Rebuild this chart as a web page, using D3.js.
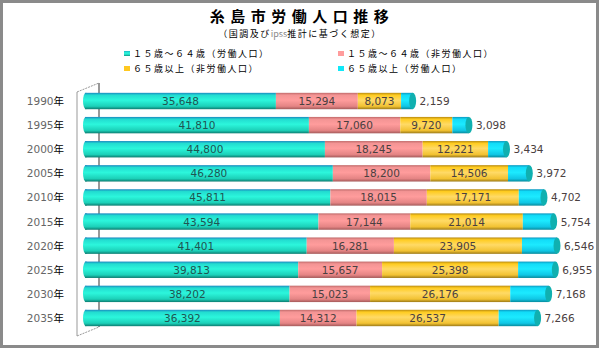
<!DOCTYPE html>
<html lang="ja">
<head>
  <meta charset="UTF-8" />
  <title>糸島市労働人口推移</title>
  <script src="https://cdn.jsdelivr.net/npm/d3@7/dist/d3.min.js"></script>
  <style>
    body { margin: 0; background: #fff; }
    #chart { width: 600px; height: 350px; }
  </style>
</head>
<body>
  <div id="chart"></div>
  <script>
    // データ
    const years = ["1990", "1995", "2000", "2005", "2010", "2015", "2020", "2025", "2030", "2035"];
    const working1564 = [35648, 41810, 44800, 46280, 45811, 43594, 41401, 39813, 38202, 36392];
    const nonWorking1564 = [15294, 17060, 18245, 18200, 18015, 17144, 16281, 15657, 15023, 14312];
    const nonWorking65 = [8073, 9720, 12221, 14506, 17171, 21014, 23905, 25398, 26176, 26537];
    const working65 = [2159, 3098, 3434, 3972, 4702, 5754, 6546, 6955, 7168, 7266];

    const seriesNames = ["１５歳～６４歳（労働人口）", "１５歳～６４歳（非労働人口）", "６５歳以上（非労働人口）", "６５歳以上（労働人口）"];
    const seriesData = [working1564, nonWorking1564, nonWorking65, working65];

    const width = 600, height = 350;
    const svg = d3.select("#chart").append("svg")
      .attr("width", width).attr("height", height)
      .style("font-family", "'DejaVu Sans', Verdana, sans-serif");

    // グラデーション（円柱風）
    const palettes = [
      { id: "g0", stops: ["#1a88c0", "#22dcd0", "#2cf6dc", "#1cd0b8", "#0c7c70"], legend: "#1aa0c0", cap: "#10a898" },
      { id: "g1", stops: ["#c06a6a", "#f39494", "#ff9c9c", "#e48484", "#a45a5a"], legend: "#ff9c9c", cap: "#d07a7a" },
      { id: "g2", stops: ["#b88a10", "#ffcc20", "#ffda66", "#f2c232", "#9c7a18"], legend: "#ffc820", cap: "#d8a820" },
      { id: "g3", stops: ["#0c98c0", "#12dcf8", "#1ceaff", "#10c6e4", "#088a9c"], legend: "#10e8f8", cap: "#10b0b0" }
    ];
    const defs = svg.append("defs");
    palettes.forEach(p => {
      const g = defs.append("linearGradient").attr("id", p.id)
        .attr("x1", 0).attr("y1", 0).attr("x2", 0).attr("y2", 1);
      const offs = [0, 0.14, 0.45, 0.82, 1];
      p.stops.forEach((c, i) => g.append("stop").attr("offset", offs[i]).attr("stop-color", c));
    });

    // 外枠
    svg.append("rect")
      .attr("x", 1.5).attr("y", 1.5).attr("width", 596).attr("height", 345)
      .attr("fill", "#fff").attr("stroke", "#8a8a8a").attr("stroke-width", 3);

    // タイトル
    svg.append("text")
      .attr("x", 302).attr("y", 22).attr("text-anchor", "middle")
      .attr("font-family", "'Noto Sans CJK JP', sans-serif")
      .attr("font-size", 15).attr("font-weight", "bold").attr("fill", "#000")
      .attr("letter-spacing", 5.5)
      .text("糸島市労働人口推移");
    const sub = svg.append("text")
      .attr("x", 300).attr("y", 37).attr("text-anchor", "middle")
      .attr("font-family", "'Noto Sans CJK JP', sans-serif")
      .attr("font-size", 9).attr("fill", "#000")
      .attr("letter-spacing", 1.5);
    sub.append("tspan").text("（国調及び");
    sub.append("tspan").attr("fill", "#888").attr("letter-spacing", 0).text("ipss");
    sub.append("tspan").text("推計に基づく想定）");

    // 凡例
    const legendPos = [[124, 57], [338, 57], [124, 72], [338, 72]];
    seriesNames.forEach((name, s) => {
      const [lx, ly] = legendPos[s];
      svg.append("rect").attr("x", lx).attr("y", ly - 6).attr("width", 6).attr("height", 5)
        .attr("fill", s === 0 ? "url(#g0)" : palettes[s].legend);
      svg.append("text").attr("x", lx + 9).attr("y", ly)
        .attr("font-family", "'Noto Sans CJK JP', sans-serif")
        .attr("font-size", 9).attr("fill", "#000")
        .attr("letter-spacing", 1.5)
        .text(name);
    });

    // スケール
    const x = d3.scaleLinear().domain([0, 90000]).range([85, 567]);
    const y = d3.scaleBand().domain(years).range([88, 331]).paddingInner(0.32).paddingOuter(0.2);
    const barH = y.bandwidth();

    // 3D風の軸壁
    const wall = svg.append("g").attr("stroke", "#999").attr("fill", "none");
    wall.append("line").attr("x1", 77).attr("y1", 92).attr("x2", 77).attr("y2", 336).attr("stroke-width", 1);
    wall.append("line").attr("x1", 77).attr("y1", 92).attr("x2", 99).attr("y2", 83).attr("stroke-dasharray", "2,1");
    wall.append("line").attr("x1", 77).attr("y1", 336).attr("x2", 99).attr("y2", 327).attr("stroke-dasharray", "2,1");
    wall.append("line").attr("x1", 99).attr("y1", 83).attr("x2", 99).attr("y2", 327).attr("stroke-width", 2);

    // 積み上げ
    const stacked = years.map((yr, i) => {
      let acc = 0;
      return seriesData.map((arr, s) => {
        const seg = { year: yr, s, v: arr[i], x0: acc, x1: acc + arr[i] };
        acc += arr[i];
        return seg;
      });
    });

    const bars = svg.append("g");
    stacked.forEach(row => {
      const g = bars.append("g").attr("transform", `translate(0,${y(row[0].year)})`);
      row.forEach(seg => {
        const x0 = x(seg.x0), x1 = x(seg.x1);
        g.append("rect")
          .attr("x", x0).attr("y", 0)
          .attr("width", Math.max(0, x1 - x0)).attr("height", barH)
          .attr("fill", `url(#${palettes[seg.s].id})`);
      });
      // 左端の丸み
      g.append("ellipse")
        .attr("cx", x(0) + 1).attr("cy", barH / 2).attr("rx", 3).attr("ry", barH / 2)
        .attr("fill", "url(#g0)");
      // 右端キャップ
      const last = row[row.length - 1];
      g.append("ellipse")
        .attr("cx", x(last.x1)).attr("cy", barH / 2).attr("rx", 3.5).attr("ry", barH / 2)
        .attr("fill", palettes[3].cap);

      // 値ラベル
      row.forEach(seg => {
        const isLast = seg.s === 3;
        const tx = isLast ? x(seg.x1) + 7 : (x(seg.x0) + x(seg.x1)) / 2;
        g.append("text")
          .attr("x", tx).attr("y", barH / 2 + 4)
          .attr("text-anchor", isLast ? "start" : "middle")
          .attr("font-size", 10.5)
          .attr("fill", seg.s === 0 ? "#1f5552" : "#4a4040")
          .text(d3.format(",")(seg.v));
      });
    });

    // カテゴリラベル
    years.forEach(yr => {
      const t = svg.append("text")
        .attr("x", 64).attr("y", y(yr) + barH / 2 + 4)
        .attr("text-anchor", "end").attr("font-size", 10.5);
      t.append("tspan").attr("fill", "#666").text(yr);
      t.append("tspan").attr("fill", "#000")
        .attr("font-family", "'Noto Sans CJK JP', sans-serif").text("年");
    });
  </script>
</body>
</html>
